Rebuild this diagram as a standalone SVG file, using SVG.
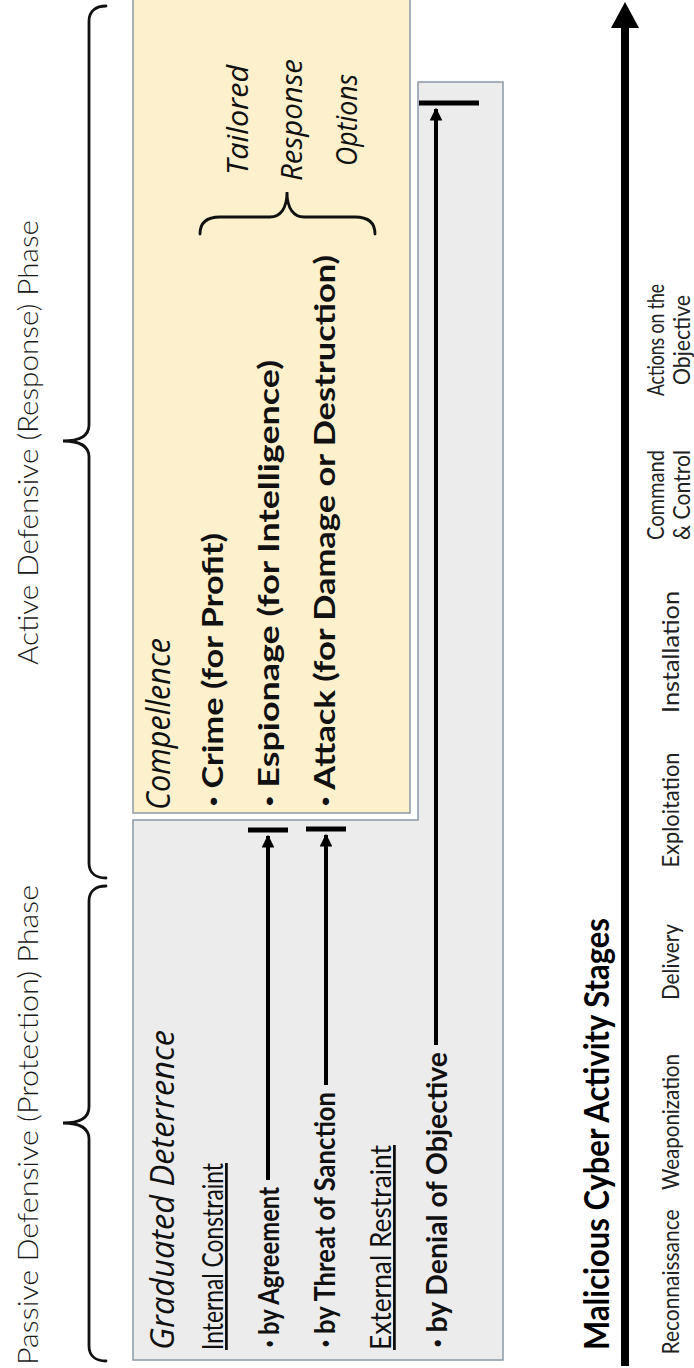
<svg xmlns="http://www.w3.org/2000/svg" width="694" height="1368" viewBox="0 0 694 1368">
<style>
.phase{font-family:"Lato","Open Sans",sans-serif;font-weight:300;font-size:27px;fill:#1a1a1a}
.head{font-family:"Open Sans","Noto Sans",sans-serif;font-style:italic;font-weight:400;font-size:33px;fill:#111}
.sub{font-family:"Lato","Liberation Sans",sans-serif;font-weight:400;font-size:28px;fill:#111;text-decoration:underline}
.item{font-family:"Lato","Liberation Sans",sans-serif;font-weight:700;font-size:29px;fill:#111}
.bul{font-family:"Liberation Sans",sans-serif;font-weight:700;font-size:22px}
.opt{font-family:"Open Sans","Noto Sans",sans-serif;font-style:italic;font-size:30px;fill:#111}
.title{font-family:"Lato","Liberation Sans",sans-serif;font-weight:700;font-size:34px;fill:#000}
.stage{font-family:"Lato","Open Sans",sans-serif;font-size:23px;fill:#222}
.brace{fill:none;stroke:#111;stroke-width:2.8;stroke-linecap:round}
.box{stroke:#8a99a6;stroke-width:1.5}
.shaft{stroke:#000;stroke-width:4}
.bar{stroke:#000;stroke-width:5}
</style>
<defs>
<marker id="ah" viewBox="0 0 10 10" refX="9" refY="5" markerWidth="3.4" markerHeight="3.2" orient="auto" markerUnits="strokeWidth">
<path d="M0,0 L10,5 L0,10 z" fill="#000"/>
</marker>
</defs>

<g id="phase-passive">
<path class="brace" d="M106,1361 C96,1361 89,1356 89,1346 L89,1139 C89,1130 82,1123 63,1123 C82,1123 89,1116 89,1107 L89,901 C89,891 96,886 106,886"/>
<text class="phase" transform="translate(38,1365) rotate(-90)" textLength="480" lengthAdjust="spacingAndGlyphs">Passive Defensive (Protection) Phase</text>
</g>

<g id="phase-active">
<path class="brace" d="M106,878 C96,878 89,873 89,863 L89,457 C89,448 82,441 63,441 C82,441 89,434 89,425 L89,21 C89,11 96,6 106,6"/>
<text class="phase" transform="translate(38,665) rotate(-90)" textLength="445" lengthAdjust="spacingAndGlyphs">Active Defensive (Response) Phase</text>
</g>

<g id="graduated-deterrence">
<path class="box" fill="#ececec" d="M133,820 L418,820 L418,82 L503,82 L503,1360 L133,1360 Z"/>
<text class="head" transform="translate(174,1350) rotate(-90)" textLength="320" lengthAdjust="spacingAndGlyphs">Graduated Deterrence</text>
<text class="sub" transform="translate(223,1350) rotate(-90)" textLength="187" lengthAdjust="spacingAndGlyphs">Internal Constraint</text>
<text class="item" transform="translate(279,1347) rotate(-90)" textLength="160" lengthAdjust="spacingAndGlyphs"><tspan class="bul" baseline-shift="2">•</tspan> by Agreement</text>
<text class="item" transform="translate(335,1347) rotate(-90)" textLength="255" lengthAdjust="spacingAndGlyphs"><tspan class="bul" baseline-shift="2">•</tspan> by Threat of Sanction</text>
<text class="sub" transform="translate(391,1350) rotate(-90)" textLength="205" lengthAdjust="spacingAndGlyphs">External Restraint</text>
<text class="item" transform="translate(447,1347) rotate(-90)" textLength="295" lengthAdjust="spacingAndGlyphs"><tspan class="bul" baseline-shift="2">•</tspan> by Denial of Objective</text>
</g>

<g id="compellence">
<rect class="box" fill="#fdf0cd" x="133" y="-2" width="277" height="815"/>
<text class="head" transform="translate(170,810) rotate(-90)" textLength="172" lengthAdjust="spacingAndGlyphs">Compellence</text>
<text class="item" transform="translate(223,806) rotate(-90)" textLength="273" lengthAdjust="spacingAndGlyphs"><tspan class="bul" baseline-shift="2">•</tspan> Crime (for Profit)</text>
<text class="item" transform="translate(279,806) rotate(-90)" textLength="446" lengthAdjust="spacingAndGlyphs"><tspan class="bul" baseline-shift="2">•</tspan> Espionage  (for Intelligence)</text>
<text class="item" transform="translate(335,806) rotate(-90)" textLength="551" lengthAdjust="spacingAndGlyphs"><tspan class="bul" baseline-shift="2">•</tspan> Attack (for Damage or Destruction)</text>
</g>

<g id="tailored-options">
<path class="brace" d="M200,234 C200,222 207,217 220,217 L270,217 C280,217 287,209 287,192 C287,209 294,217 304,217 L355,217 C368,217 375,222 375,234"/>
<text class="opt" text-anchor="middle" transform="translate(248,120) rotate(-90)" textLength="110" lengthAdjust="spacingAndGlyphs">Tailored</text>
<text class="opt" text-anchor="middle" transform="translate(302,120) rotate(-90)" textLength="122" lengthAdjust="spacingAndGlyphs">Response</text>
<text class="opt" text-anchor="middle" transform="translate(357,120) rotate(-90)" textLength="92" lengthAdjust="spacingAndGlyphs">Options</text>
</g>

<g id="stages">
<text class="title" transform="translate(609,1350) rotate(-90)" textLength="432" lengthAdjust="spacingAndGlyphs">Malicious Cyber Activity Stages</text>
<text class="stage" text-anchor="middle" transform="translate(679,1282) rotate(-90)" textLength="145" lengthAdjust="spacingAndGlyphs">Reconnaissance</text>
<text class="stage" text-anchor="middle" transform="translate(679,1122) rotate(-90)" textLength="136" lengthAdjust="spacingAndGlyphs">Weaponization</text>
<text class="stage" text-anchor="middle" transform="translate(679,962) rotate(-90)" textLength="76" lengthAdjust="spacingAndGlyphs">Delivery</text>
<text class="stage" text-anchor="middle" transform="translate(679,810) rotate(-90)" textLength="115" lengthAdjust="spacingAndGlyphs">Exploitation</text>
<text class="stage" text-anchor="middle" transform="translate(679,652) rotate(-90)" textLength="122" lengthAdjust="spacingAndGlyphs">Installation</text>
<text class="stage" text-anchor="middle" transform="translate(664,495) rotate(-90)" textLength="90" lengthAdjust="spacingAndGlyphs">Command</text>
<text class="stage" text-anchor="middle" transform="translate(690,495) rotate(-90)" textLength="90" lengthAdjust="spacingAndGlyphs">&amp; Control</text>
<text class="stage" text-anchor="middle" transform="translate(664,340) rotate(-90)" textLength="112" lengthAdjust="spacingAndGlyphs">Actions on the</text>
<text class="stage" text-anchor="middle" transform="translate(690,340) rotate(-90)" textLength="90" lengthAdjust="spacingAndGlyphs">Objective</text>
</g>

<g id="connectors">
<line x1="625" y1="1366" x2="625" y2="24" stroke="#000" stroke-width="8"/>
<polygon points="625,2 611,28 639,28" fill="#000"/>
<line class="shaft" x1="268" y1="1180" x2="268" y2="836" marker-end="url(#ah)"/>
<line class="bar" x1="248" y1="830" x2="288" y2="830"/>
<line class="shaft" x1="326" y1="1085" x2="326" y2="835" marker-end="url(#ah)"/>
<line class="bar" x1="306" y1="829" x2="346" y2="829"/>
<line class="shaft" x1="436" y1="1045" x2="436" y2="109" marker-end="url(#ah)"/>
<line class="bar" x1="419" y1="103" x2="479" y2="103"/>
</g>
</svg>
